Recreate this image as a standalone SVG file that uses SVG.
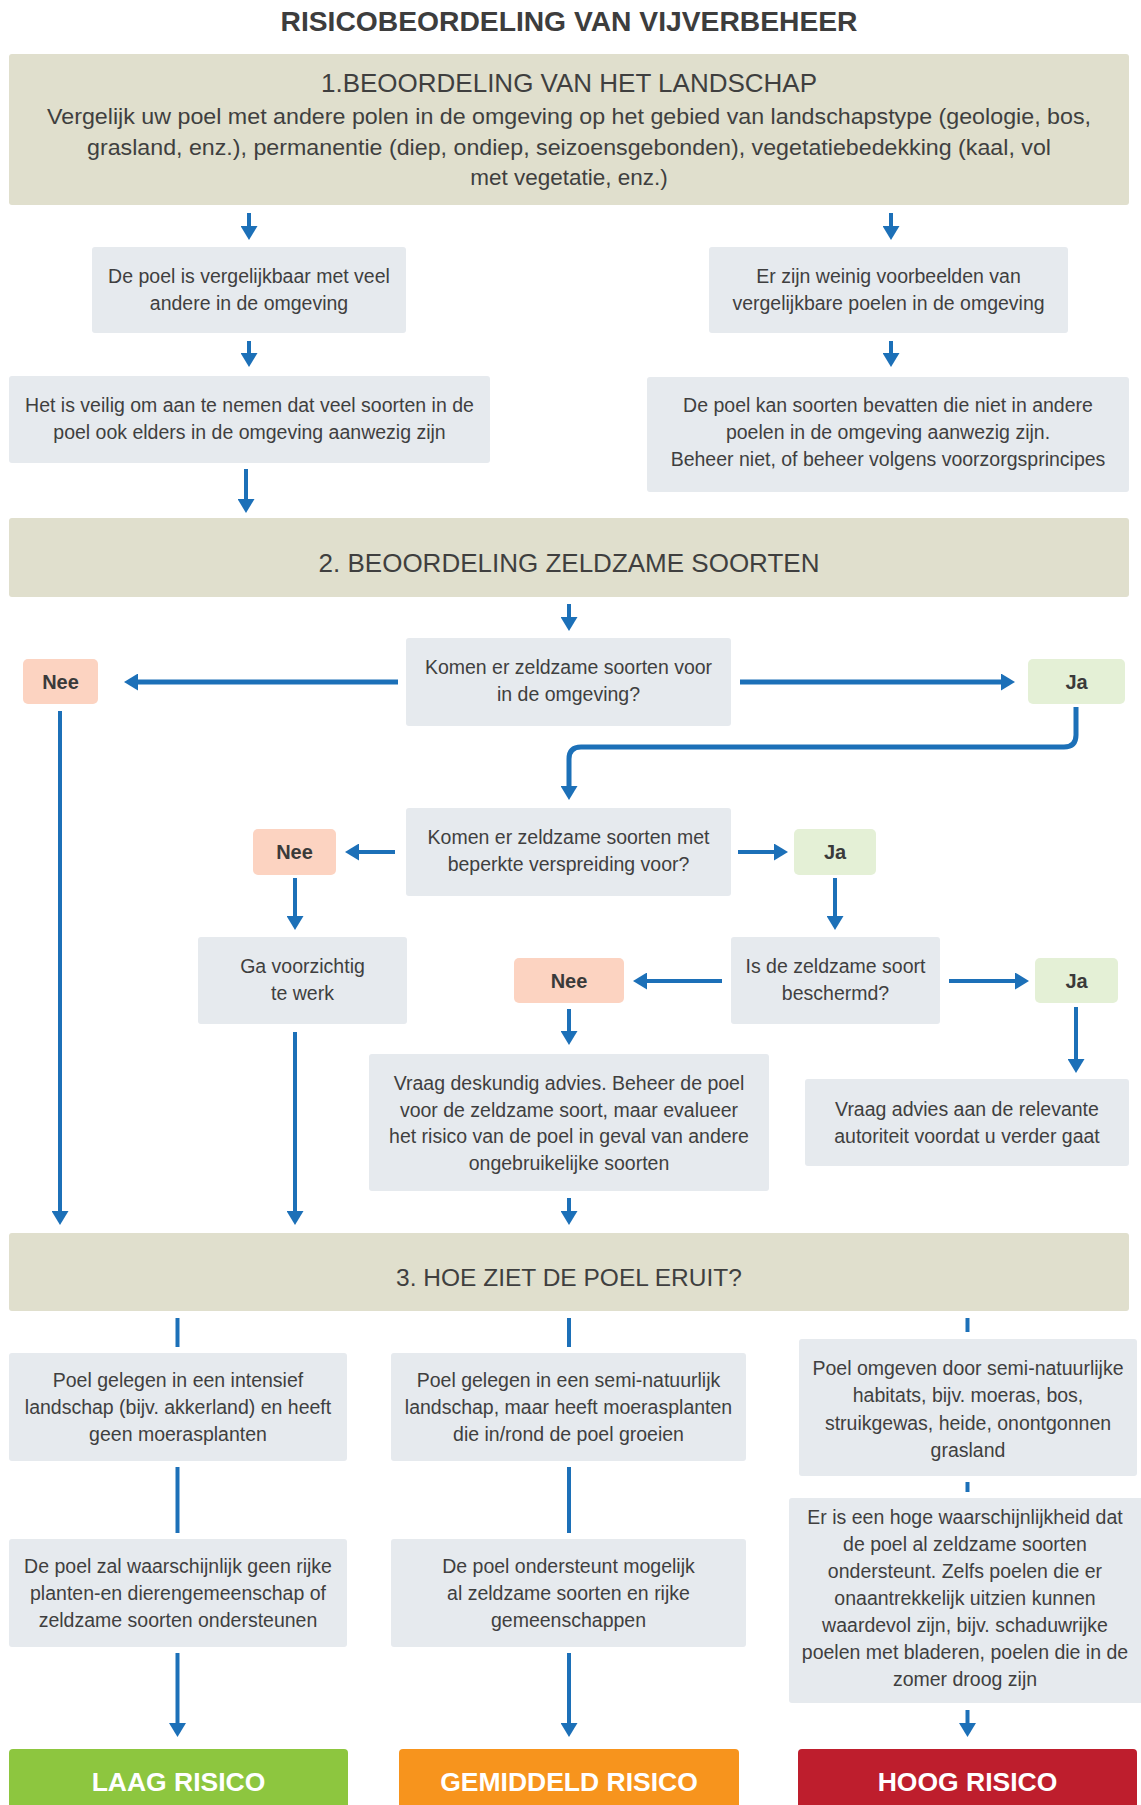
<svg xmlns="http://www.w3.org/2000/svg" width="1141" height="1805" viewBox="0 0 1141 1805">
<style>
  text { font-family: "Liberation Sans", Arial, sans-serif; fill: #3f3f3f; text-anchor: middle; }
  .title { font-size: 28px; font-weight: bold; fill: #3d3d3d; }
  .head { font-size: 26px; }
  .head3 { font-size: 24.5px; }
  .hbody { font-size: 22.5px; }
  .body { font-size: 19.5px; }
  .lbl { font-size: 20px; font-weight: bold; fill: #3a3a3a; }
  .res { font-size: 26.5px; font-weight: bold; fill: #ffffff; }
  .hbox { fill: #e0dfcd; }
  .gbox { fill: #e6eaee; }
  .nee { fill: #fcd3c1; }
  .ja { fill: #e4f0d6; }
  .conn path { fill: none; stroke: #1c70b8; stroke-width: 4; stroke-linecap: butt; }
  .conn path.arr { marker-end: url(#ah); }
  .conn path.thick { stroke-width: 5; }
</style>
<defs>
  <marker id="ah" viewBox="0 -8.5 14 17" refX="0" refY="0" markerWidth="14" markerHeight="17" markerUnits="userSpaceOnUse" orient="auto">
    <path d="M0,-8.5 L14,0 L0,8.5 Z" fill="#1c70b8"/>
  </marker>
</defs>
<rect width="1141" height="1805" fill="#ffffff"/>

<text class="title" x="569" y="30.5" textLength="577" lengthAdjust="spacingAndGlyphs">RISICOBEORDELING VAN VIJVERBEHEER</text>

<g id="step1">
  <rect class="hbox" x="9" y="54" width="1120" height="151" rx="3"/>
  <text class="head" x="569" y="92">1.BEOORDELING VAN HET LANDSCHAP</text>
  <text class="hbody" x="569" y="124" textLength="1044" lengthAdjust="spacingAndGlyphs">Vergelijk uw poel met andere polen in de omgeving op het gebied van landschapstype (geologie, bos,</text>
  <text class="hbody" x="569" y="155" textLength="964" lengthAdjust="spacingAndGlyphs">grasland, enz.), permanentie (diep, ondiep, seizoensgebonden), vegetatiebedekking (kaal, vol</text>
  <text class="hbody" x="569" y="185">met vegetatie, enz.)</text>
</g>

<g id="n_vergelijkbaar">
  <rect class="gbox" x="92" y="247" width="314" height="86" rx="3"/>
  <text class="body" x="249" y="283">De poel is vergelijkbaar met veel</text>
  <text class="body" x="249" y="310">andere in de omgeving</text>
</g>
<g id="n_weinig">
  <rect class="gbox" x="709" y="247" width="359" height="86" rx="3"/>
  <text class="body" x="888.5" y="283">Er zijn weinig voorbeelden van</text>
  <text class="body" x="888.5" y="310">vergelijkbare poelen in de omgeving</text>
</g>
<g id="n_veilig">
  <rect class="gbox" x="9" y="376" width="481" height="87" rx="3"/>
  <text class="body" x="249.5" y="412">Het is veilig om aan te nemen dat veel soorten in de</text>
  <text class="body" x="249.5" y="439">poel ook elders in de omgeving aanwezig zijn</text>
</g>
<g id="n_voorzorg">
  <rect class="gbox" x="647" y="377" width="482" height="115" rx="3"/>
  <text class="body" x="888" y="412">De poel kan soorten bevatten die niet in andere</text>
  <text class="body" x="888" y="439">poelen in de omgeving aanwezig zijn.</text>
  <text class="body" x="888" y="466">Beheer niet, of beheer volgens voorzorgsprincipes</text>
</g>

<g id="step2">
  <rect class="hbox" x="9" y="518" width="1120" height="79" rx="3"/>
  <text class="head" x="569" y="572">2. BEOORDELING ZELDZAME SOORTEN</text>
</g>

<g id="q_omgeving">
  <rect class="gbox" x="406" y="638" width="325" height="88" rx="3"/>
  <text class="body" x="568.5" y="674">Komen er zeldzame soorten voor</text>
  <text class="body" x="568.5" y="701">in de omgeving?</text>
</g>
<g id="nee1">
  <rect class="nee" x="23" y="659" width="75" height="45" rx="5"/>
  <text class="lbl" x="60.5" y="689">Nee</text>
</g>
<g id="ja1">
  <rect class="ja" x="1028" y="659" width="97" height="45" rx="5"/>
  <text class="lbl" x="1076.5" y="689">Ja</text>
</g>

<g id="q_verspreiding">
  <rect class="gbox" x="406" y="808" width="325" height="88" rx="3"/>
  <text class="body" x="568.5" y="844">Komen er zeldzame soorten met</text>
  <text class="body" x="568.5" y="871">beperkte verspreiding voor?</text>
</g>
<g id="nee2">
  <rect class="nee" x="253" y="829" width="83" height="46" rx="5"/>
  <text class="lbl" x="294.5" y="859">Nee</text>
</g>
<g id="ja2">
  <rect class="ja" x="794" y="829" width="82" height="46" rx="5"/>
  <text class="lbl" x="835" y="859">Ja</text>
</g>

<g id="n_voorzichtig">
  <rect class="gbox" x="198" y="937" width="209" height="87" rx="3"/>
  <text class="body" x="302.5" y="973">Ga voorzichtig</text>
  <text class="body" x="302.5" y="1000">te werk</text>
</g>
<g id="q_beschermd">
  <rect class="gbox" x="731" y="937" width="209" height="87" rx="3"/>
  <text class="body" x="835.5" y="973">Is de zeldzame soort</text>
  <text class="body" x="835.5" y="1000">beschermd?</text>
</g>
<g id="nee3">
  <rect class="nee" x="514" y="958" width="110" height="45" rx="5"/>
  <text class="lbl" x="569" y="988">Nee</text>
</g>
<g id="ja3">
  <rect class="ja" x="1035" y="958" width="83" height="45" rx="5"/>
  <text class="lbl" x="1076.5" y="988">Ja</text>
</g>

<g id="n_deskundig">
  <rect class="gbox" x="369" y="1054" width="400" height="137" rx="3"/>
  <text class="body" x="569" y="1090">Vraag deskundig advies. Beheer de poel</text>
  <text class="body" x="569" y="1117">voor de zeldzame soort, maar evalueer</text>
  <text class="body" x="569" y="1143">het risico van de poel in geval van andere</text>
  <text class="body" x="569" y="1170">ongebruikelijke soorten</text>
</g>
<g id="n_autoriteit">
  <rect class="gbox" x="805" y="1079" width="324" height="87" rx="3"/>
  <text class="body" x="967" y="1116">Vraag advies aan de relevante</text>
  <text class="body" x="967" y="1143">autoriteit voordat u verder gaat</text>
</g>

<g id="step3">
  <rect class="hbox" x="9" y="1233" width="1120" height="78" rx="3"/>
  <text class="head3" x="569" y="1286">3. HOE ZIET DE POEL ERUIT?</text>
</g>

<g id="n_intensief">
  <rect class="gbox" x="9" y="1353" width="338" height="108" rx="3"/>
  <text class="body" x="178" y="1387">Poel gelegen in een intensief</text>
  <text class="body" x="178" y="1414">landschap (bijv. akkerland) en heeft</text>
  <text class="body" x="178" y="1441">geen moerasplanten</text>
</g>
<g id="n_seminat">
  <rect class="gbox" x="391" y="1353" width="355" height="108" rx="3"/>
  <text class="body" x="568.5" y="1387">Poel gelegen in een semi-natuurlijk</text>
  <text class="body" x="568.5" y="1414">landschap, maar heeft moerasplanten</text>
  <text class="body" x="568.5" y="1441">die in/rond de poel groeien</text>
</g>
<g id="n_omgeven">
  <rect class="gbox" x="799" y="1339" width="338" height="137" rx="3"/>
  <text class="body" x="968" y="1375">Poel omgeven door semi-natuurlijke</text>
  <text class="body" x="968" y="1402">habitats, bijv. moeras, bos,</text>
  <text class="body" x="968" y="1430">struikgewas, heide, onontgonnen</text>
  <text class="body" x="968" y="1457">grasland</text>
</g>

<g id="n_geenrijke">
  <rect class="gbox" x="9" y="1539" width="338" height="108" rx="3"/>
  <text class="body" x="178" y="1573">De poel zal waarschijnlijk geen rijke</text>
  <text class="body" x="178" y="1600">planten-en dierengemeenschap of</text>
  <text class="body" x="178" y="1627">zeldzame soorten ondersteunen</text>
</g>
<g id="n_mogelijk">
  <rect class="gbox" x="391" y="1539" width="355" height="108" rx="3"/>
  <text class="body" x="568.5" y="1573">De poel ondersteunt mogelijk</text>
  <text class="body" x="568.5" y="1600">al zeldzame soorten en rijke</text>
  <text class="body" x="568.5" y="1627">gemeenschappen</text>
</g>
<g id="n_hoge">
  <rect class="gbox" x="789" y="1498" width="355" height="205" rx="3"/>
  <text class="body" x="965" y="1524">Er is een hoge waarschijnlijkheid dat</text>
  <text class="body" x="965" y="1551">de poel al zeldzame soorten</text>
  <text class="body" x="965" y="1578">ondersteunt. Zelfs poelen die er</text>
  <text class="body" x="965" y="1605">onaantrekkelijk uitzien kunnen</text>
  <text class="body" x="965" y="1632">waardevol zijn, bijv. schaduwrijke</text>
  <text class="body" x="965" y="1659">poelen met bladeren, poelen die in de</text>
  <text class="body" x="965" y="1686">zomer droog zijn</text>
</g>

<g id="r_laag">
  <rect x="9" y="1749" width="339" height="70" rx="4" fill="#8dc63f"/>
  <text class="res" x="178.5" y="1791">LAAG RISICO</text>
</g>
<g id="r_gemiddeld">
  <rect x="399" y="1749" width="340" height="70" rx="4" fill="#f7941d"/>
  <text class="res" x="569" y="1791">GEMIDDELD RISICO</text>
</g>
<g id="r_hoog">
  <rect x="798" y="1749" width="339" height="70" rx="4" fill="#be1e2d"/>
  <text class="res" x="967.5" y="1791">HOOG RISICO</text>
</g>

<g id="connectors" class="conn">
  <path class="arr" d="M249,213 V226"/>
  <path class="arr" d="M891,213 V226"/>
  <path class="arr" d="M249,341 V353"/>
  <path class="arr" d="M891,341 V353"/>
  <path class="arr" d="M246,469 V499"/>
  <path class="arr" d="M569,604 V617"/>
  <path class="arr thick" d="M398,682 H138"/>
  <path class="arr thick" d="M740,682 H1001"/>
  <path class="arr" d="M60,711 V1211"/>
  <path class="arr thick" d="M1076,707 V735 Q1076,747 1064,747 H581 Q569,747 569,759 V786"/>
  <path class="arr" d="M395,852 H359"/>
  <path class="arr" d="M738,852 H774"/>
  <path class="arr" d="M295,878 V916"/>
  <path class="arr" d="M835,878 V916"/>
  <path class="arr" d="M722,981 H647"/>
  <path class="arr" d="M949,981 H1015"/>
  <path class="arr" d="M569,1009 V1031"/>
  <path class="arr" d="M1076,1007 V1059"/>
  <path class="arr" d="M295,1032 V1211"/>
  <path class="arr" d="M569,1198 V1211"/>
  <path d="M177.5,1318 V1347"/>
  <path d="M569,1318 V1347"/>
  <path d="M967.5,1318 V1332"/>
  <path d="M177.5,1467 V1533"/>
  <path d="M569,1467 V1533"/>
  <path d="M967.5,1482 V1492"/>
  <path class="arr" d="M177.5,1653 V1723"/>
  <path class="arr" d="M569,1653 V1723"/>
  <path class="arr" d="M967.5,1710 V1723"/>
</g>
</svg>
